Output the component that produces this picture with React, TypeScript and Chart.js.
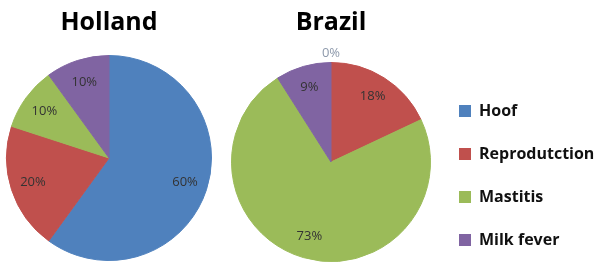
import React, { useEffect, useRef } from "react";
import { Chart, registerables } from "chart.js";

Chart.register(...registerables);

const categories = ["Hoof", "Reprodutction", "Mastitis", "Milk fever"];
const hollandValues = [60, 20, 10, 10];
const brazilValues = [0, 18, 73, 9];
const chartTitles = ["Holland", "Brazil"];
const sliceColors = ["#4F81BD", "#C0504D", "#9BBB59", "#8064A2"];

const FONT = "'Open Sans', 'DejaVu Sans', sans-serif";

const pctLabels = {
  id: "pctLabels",
  afterDatasetsDraw(chart: any) {
    const meta = chart.getDatasetMeta(0);
    const ds = chart.data.datasets[0];
    const ctx = chart.ctx;
    ctx.save();
    ctx.font = `13px ${FONT}`;
    ctx.textAlign = "center";
    ctx.textBaseline = "middle";
    meta.data.forEach((arc: any, i: number) => {
      const v = ds.data[i] as number;
      const { x, y, startAngle, endAngle, outerRadius } = arc.getProps(
        ["x", "y", "startAngle", "endAngle", "outerRadius"],
        true
      );
      const mid = (startAngle + endAngle) / 2;
      const r = v === 0 ? outerRadius + 9 : outerRadius * 0.78;
      ctx.fillStyle = v === 0 ? "#8d99ab" : "#333333";
      ctx.fillText(v + "%", x + Math.cos(mid) * r, y + Math.sin(mid) * r);
    });
    ctx.restore();
  },
};

function pieConfig(title: string, values: number[], padding: any, titleBottom: number): any {
  return {
    type: "pie",
    data: {
      labels: categories,
      datasets: [
        {
          data: values,
          backgroundColor: sliceColors,
          borderColor: sliceColors,
          borderWidth: 1,
          hoverOffset: 0,
          offset: 0,
        },
      ],
    },
    options: {
      responsive: false,
      maintainAspectRatio: false,
      animation: false,
      devicePixelRatio: 1,
      events: [],
      layout: { padding },
      plugins: {
        legend: { display: false },
        tooltip: { enabled: false },
        title: {
          display: true,
          text: title,
          color: "#000000",
          font: { family: FONT, size: 25, weight: "bold", lineHeight: 1.2 },
          padding: { top: 8, bottom: titleBottom },
        },
      },
    },
    plugins: [pctLabels],
  };
}

function legendConfig(): any {
  return {
    type: "pie",
    data: {
      labels: categories,
      datasets: [
        {
          data: hollandValues,
          backgroundColor: sliceColors,
          borderWidth: 0,
          radius: 0,
        },
      ],
    },
    options: {
      responsive: false,
      maintainAspectRatio: false,
      animation: false,
      devicePixelRatio: 1,
      events: [],
      layout: { padding: { top: 76, left: 0, right: 0, bottom: 0 } },
      plugins: {
        tooltip: { enabled: false },
        title: { display: false },
        legend: {
          display: true,
          position: "left",
          align: "start",
          labels: {
            color: "#111111",
            font: { family: FONT, size: 16, weight: "bold" },
            boxWidth: 12,
            boxHeight: 12,
            padding: 27,
          },
        },
      },
    },
  };
}

function ChartCanvas({ make, left, top, width, height }: any) {
  const ref = useRef<HTMLCanvasElement | null>(null);
  useEffect(() => {
    if (!ref.current) return;
    const chart = new Chart(ref.current, make());
    return () => chart.destroy();
  }, []);
  return (
    <canvas
      ref={ref}
      width={width}
      height={height}
      style={{ position: "absolute", left, top, width, height, display: "block" }}
    />
  );
}

export default function App() {
  return (
    <>
      <style>{"html,body{margin:0;padding:0;overflow:hidden;background:#fff;}"}</style>
      <div
        style={{
          position: "relative",
          width: 609,
          height: 273,
          overflow: "hidden",
          background: "#ffffff",
        }}
      >
        <ChartCanvas
          make={() => pieConfig(chartTitles[0], hollandValues, { left: 6, right: 8, top: 0, bottom: 12 }, 17)}
          left={0}
          top={0}
          width={220}
          height={273}
        />
        <ChartCanvas
          make={() => pieConfig(chartTitles[1], brazilValues, { left: 11, right: 9, top: 0, bottom: 11 }, 24)}
          left={220}
          top={0}
          width={220}
          height={273}
        />
        <ChartCanvas make={legendConfig} left={432} top={0} width={420} height={330} />
      </div>
    </>
  );
}
